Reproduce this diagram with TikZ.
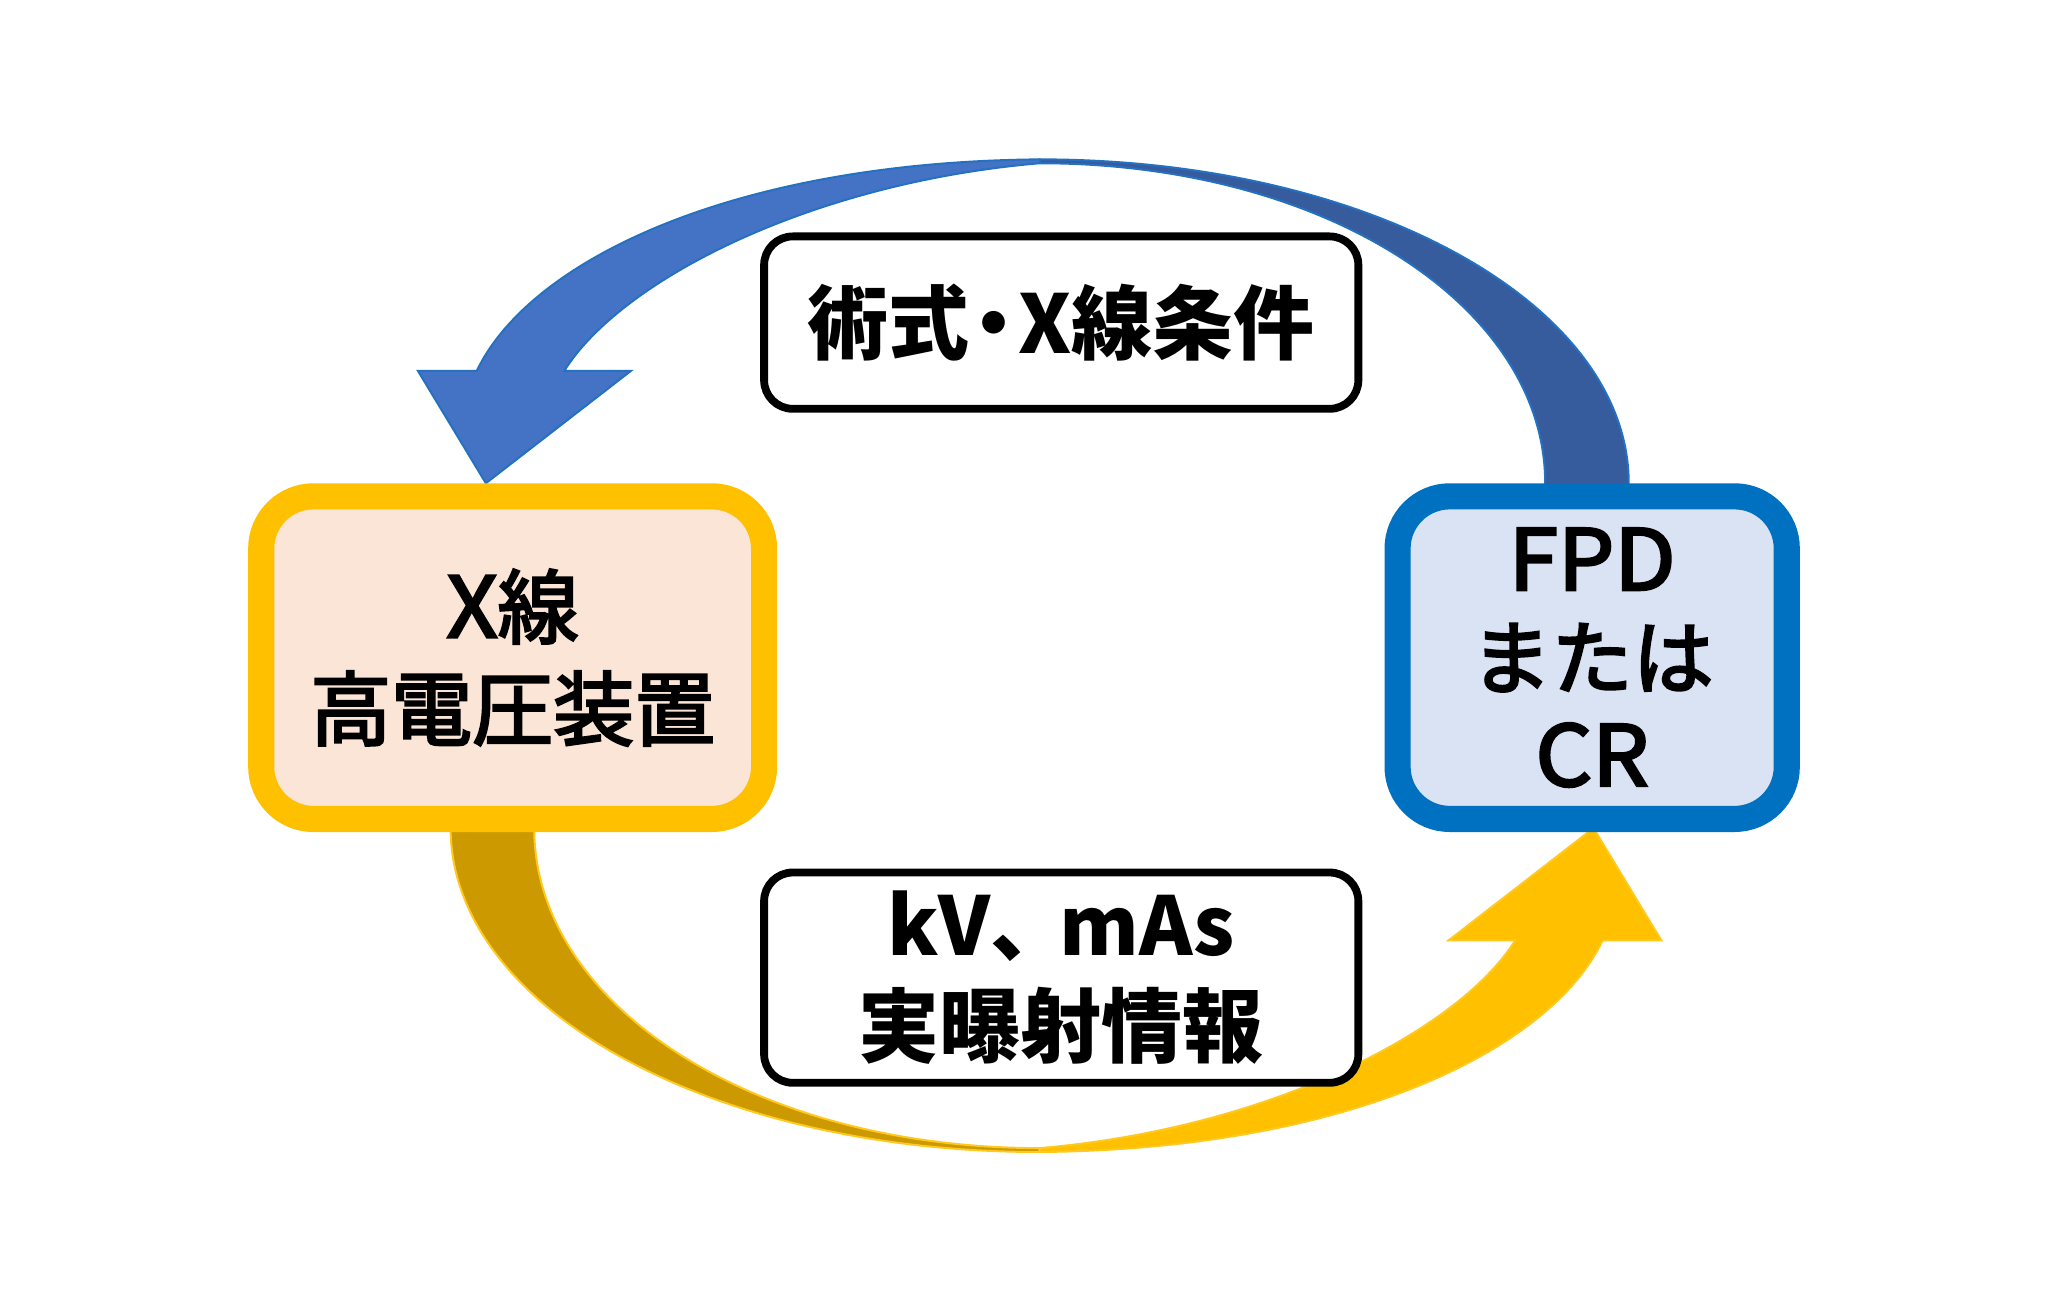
\documentclass[tikz,border=0pt]{standalone}
\usepackage{fontspec}
\newfontfamily\jpr[FakeBold=3]{Noto Sans CJK JP}
\newfontfamily\jpb{Noto Sans CJK JP}
\definecolor{bluelight}{HTML}{4472C4}
\definecolor{bluedark}{HTML}{365C9E}
\definecolor{blueline}{HTML}{2471C2}
\definecolor{bluebox}{HTML}{0070C0}
\definecolor{bluefill}{HTML}{DAE3F3}
\definecolor{yellight}{HTML}{FFC000}
\definecolor{yeldark}{HTML}{CC9A00}
\definecolor{yelline}{HTML}{FFC91F}
\definecolor{peach}{HTML}{FBE5D6}
\tikzset{
  mainbox/.style={rectangle, rounded corners=40pt, line width=20pt, align=center,
    inner sep=0pt, font=\jpr\fontsize{62}{78}\selectfont},
  leftbox/.style={mainbox, draw=yellight, fill=peach, minimum width=385pt, minimum height=247pt},
  rightbox/.style={mainbox, draw=bluebox, fill=bluefill, minimum width=298pt, minimum height=247pt,
    font=\jpr\fontsize{62}{75}\selectfont},
  labelbox/.style={rectangle, rounded corners=22pt, line width=6pt, draw=black, fill=white,
    align=center, inner sep=0pt, minimum width=455pt, font=\jpb\bfseries\fontsize{62}{77}\selectfont},
  back/.style={line width=1.5pt},
  front/.style={line width=1.5pt},
}
\newcommand\wide[1]{\scalebox{1.1}[1.04]{#1}}
\begin{document}
\begin{tikzpicture}[x=1pt,y=-1pt]
\useasboundingbox (0,0) rectangle (1568,1004);
\fill[white] (0,0) rectangle (1568,1004);
% top arrow (blue)
\filldraw[back, fill=bluedark, draw=blueline]
   (1247,372) -- (1247,370) .. controls (1247,233) and (1049,122) .. (796,122)
   -- (796,125) .. controls (1014,125) and (1183,234) .. (1183,370) -- (1183,372);
\filldraw[front, fill=bluelight, draw=blueline]
   (796,122) .. controls (560,124) and (405,200) .. (365,284) -- (320,284) -- (372,370)
   -- (483,284) -- (432,284) .. controls (475,215) and (620,140) .. (796,125) -- cycle;
% bottom arrow (yellow), same shape turned half round
\begin{scope}[rotate around={180:(796,502)}]
\filldraw[back, fill=yeldark, draw=yelline]
   (1247,372) -- (1247,370) .. controls (1247,233) and (1049,122) .. (796,122)
   -- (796,125) .. controls (1014,125) and (1183,234) .. (1183,370) -- (1183,372);
\filldraw[front, fill=yellight, draw=yelline]
   (796,122) .. controls (560,124) and (405,200) .. (365,284) -- (320,284) -- (372,370)
   -- (483,284) -- (432,284) .. controls (475,215) and (620,140) .. (796,125) -- cycle;
\end{scope}
% boxes
\node[leftbox] (xray) at (392.5,503.5) {\wide{X}線\\高電圧装置};
\node[rightbox] (fpd) at (1219,503.5) {\wide{FPD}\\または\\\wide{CR}};
\node[labelbox, minimum height=132pt] (cond) at (812.5,247) {術式\kern-0.2em・\kern-0.2em X線条件};
\node[labelbox, minimum height=161pt] (info) at (812.5,748.5) {kV、\kern-0.15em mAs\\実曝射情報};
\end{tikzpicture}
\end{document}
